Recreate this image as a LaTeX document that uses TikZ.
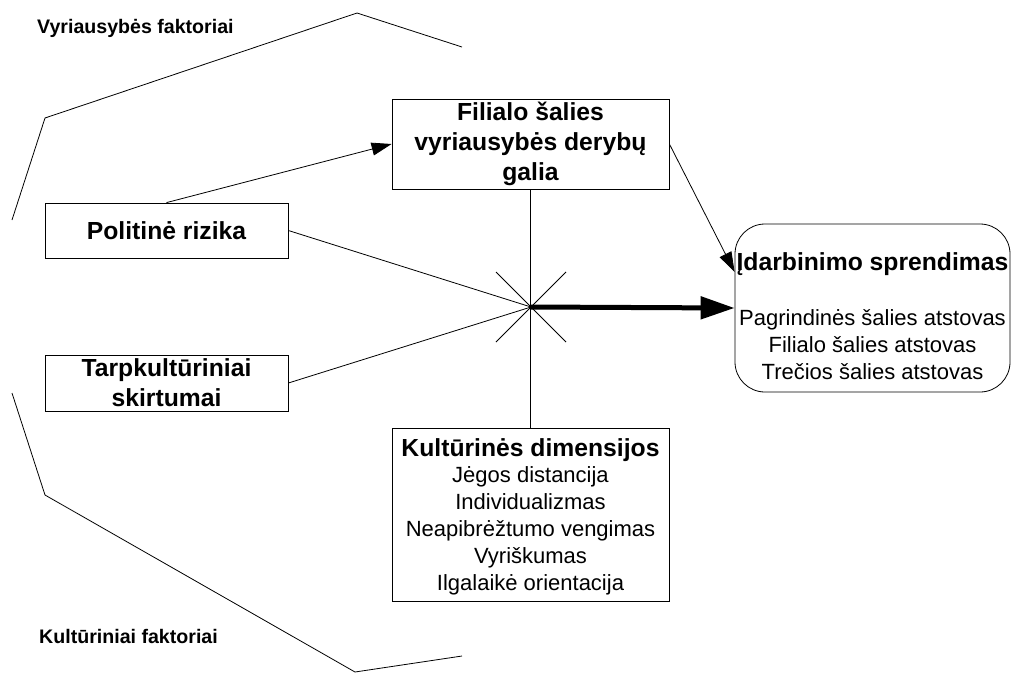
\documentclass[tikz,border=0pt]{standalone}
\usepackage{fontspec}
\setmainfont{Liberation Sans}
\usetikzlibrary{arrows.meta}
\begin{document}
\begin{tikzpicture}[x=1pt,y=-1pt,
  box/.style={draw, line width=0.8pt, inner sep=0pt, align=center,
    font=\fontsize{22}{26.8}\selectfont},
  ttl/.style={font=\bfseries\fontsize{24.7}{29.8}\selectfont},
  txt/.style={inner sep=0pt, align=center, font=\fontsize{22}{26.8}\selectfont},
  thin/.style={line width=0.8pt},
  arr/.style={thin, -{Triangle[length=20pt,width=13pt]}},
  bigarr/.style={line width=5pt, -{Triangle[length=34pt,width=22pt]}},
  lbl/.style={inner sep=0pt, anchor=west, font=\bfseries\fontsize{19.6}{22}\selectfont}
]
\useasboundingbox (0,0) rectangle (1014,673);

% group brackets
\draw[thin] (12,220) -- (45,118) -- (357,13) -- (462,47);
\draw[thin] (12,393) -- (45,495) -- (355,672) -- (462,656);
\node[lbl] (vf) at (37,28) {Vyriausybės faktoriai};
\node[lbl] (kf) at (39,636) {Kultūriniai faktoriai};

% boxes
\node[box, ttl, minimum width=243pt, minimum height=55pt] (pol) at (166.5,230.5) {Politinė rizika};
\node[box, ttl, minimum width=243pt, minimum height=56pt] (tar) at (166.5,383) {Tarpkultūriniai\\skirtumai};
\node[box, ttl, minimum width=277pt, minimum height=90pt] (fil) at (530.5,144) {Filialo šalies\\vyriausybės derybų\\galia};
\node[box, minimum width=277pt, minimum height=173pt] (kul) at (530.5,514.5) {};
\node[txt] (kultxt) at (530.5,516.5)
  {{\bfseries\fontsize{24.7}{29.8}\selectfont Kultūrinės dimensijos}\\Jėgos distancija\\Individualizmas\\Neapibrėžtumo vengimas\\Vyriškumas\\Ilgalaikė orientacija};
\node[box, rounded corners=30pt, minimum width=275pt, minimum height=168pt] (idb) at (872.5,308) {};
\node[txt] (idbtxt) at (872.5,316)
  {{\bfseries\fontsize{24.7}{29.8}\selectfont Įdarbinimo sprendimas}\\[28pt]Pagrindinės šalies atstovas\\Filialo šalies atstovas\\Trečios šalies atstovas};

% hub
\coordinate (hub) at (531,307);
\draw[thin] (fil.south) -- (kul.north);
\draw[thin] (pol.east) -- (hub);
\draw[thin] (tar.east) -- (hub);
\draw[thin] (hub) ++(-35,-35) -- ++(70,70);
\draw[thin] (hub) ++(35,-35) -- ++(-70,70);

% arrows
\draw[arr] (pol.north) -- (fil.west);
\draw[arr] (fil.east) -- ([yshift=36pt]idb.west);
\draw[bigarr] (hub) -- (idb.west);
\end{tikzpicture}
\end{document}
